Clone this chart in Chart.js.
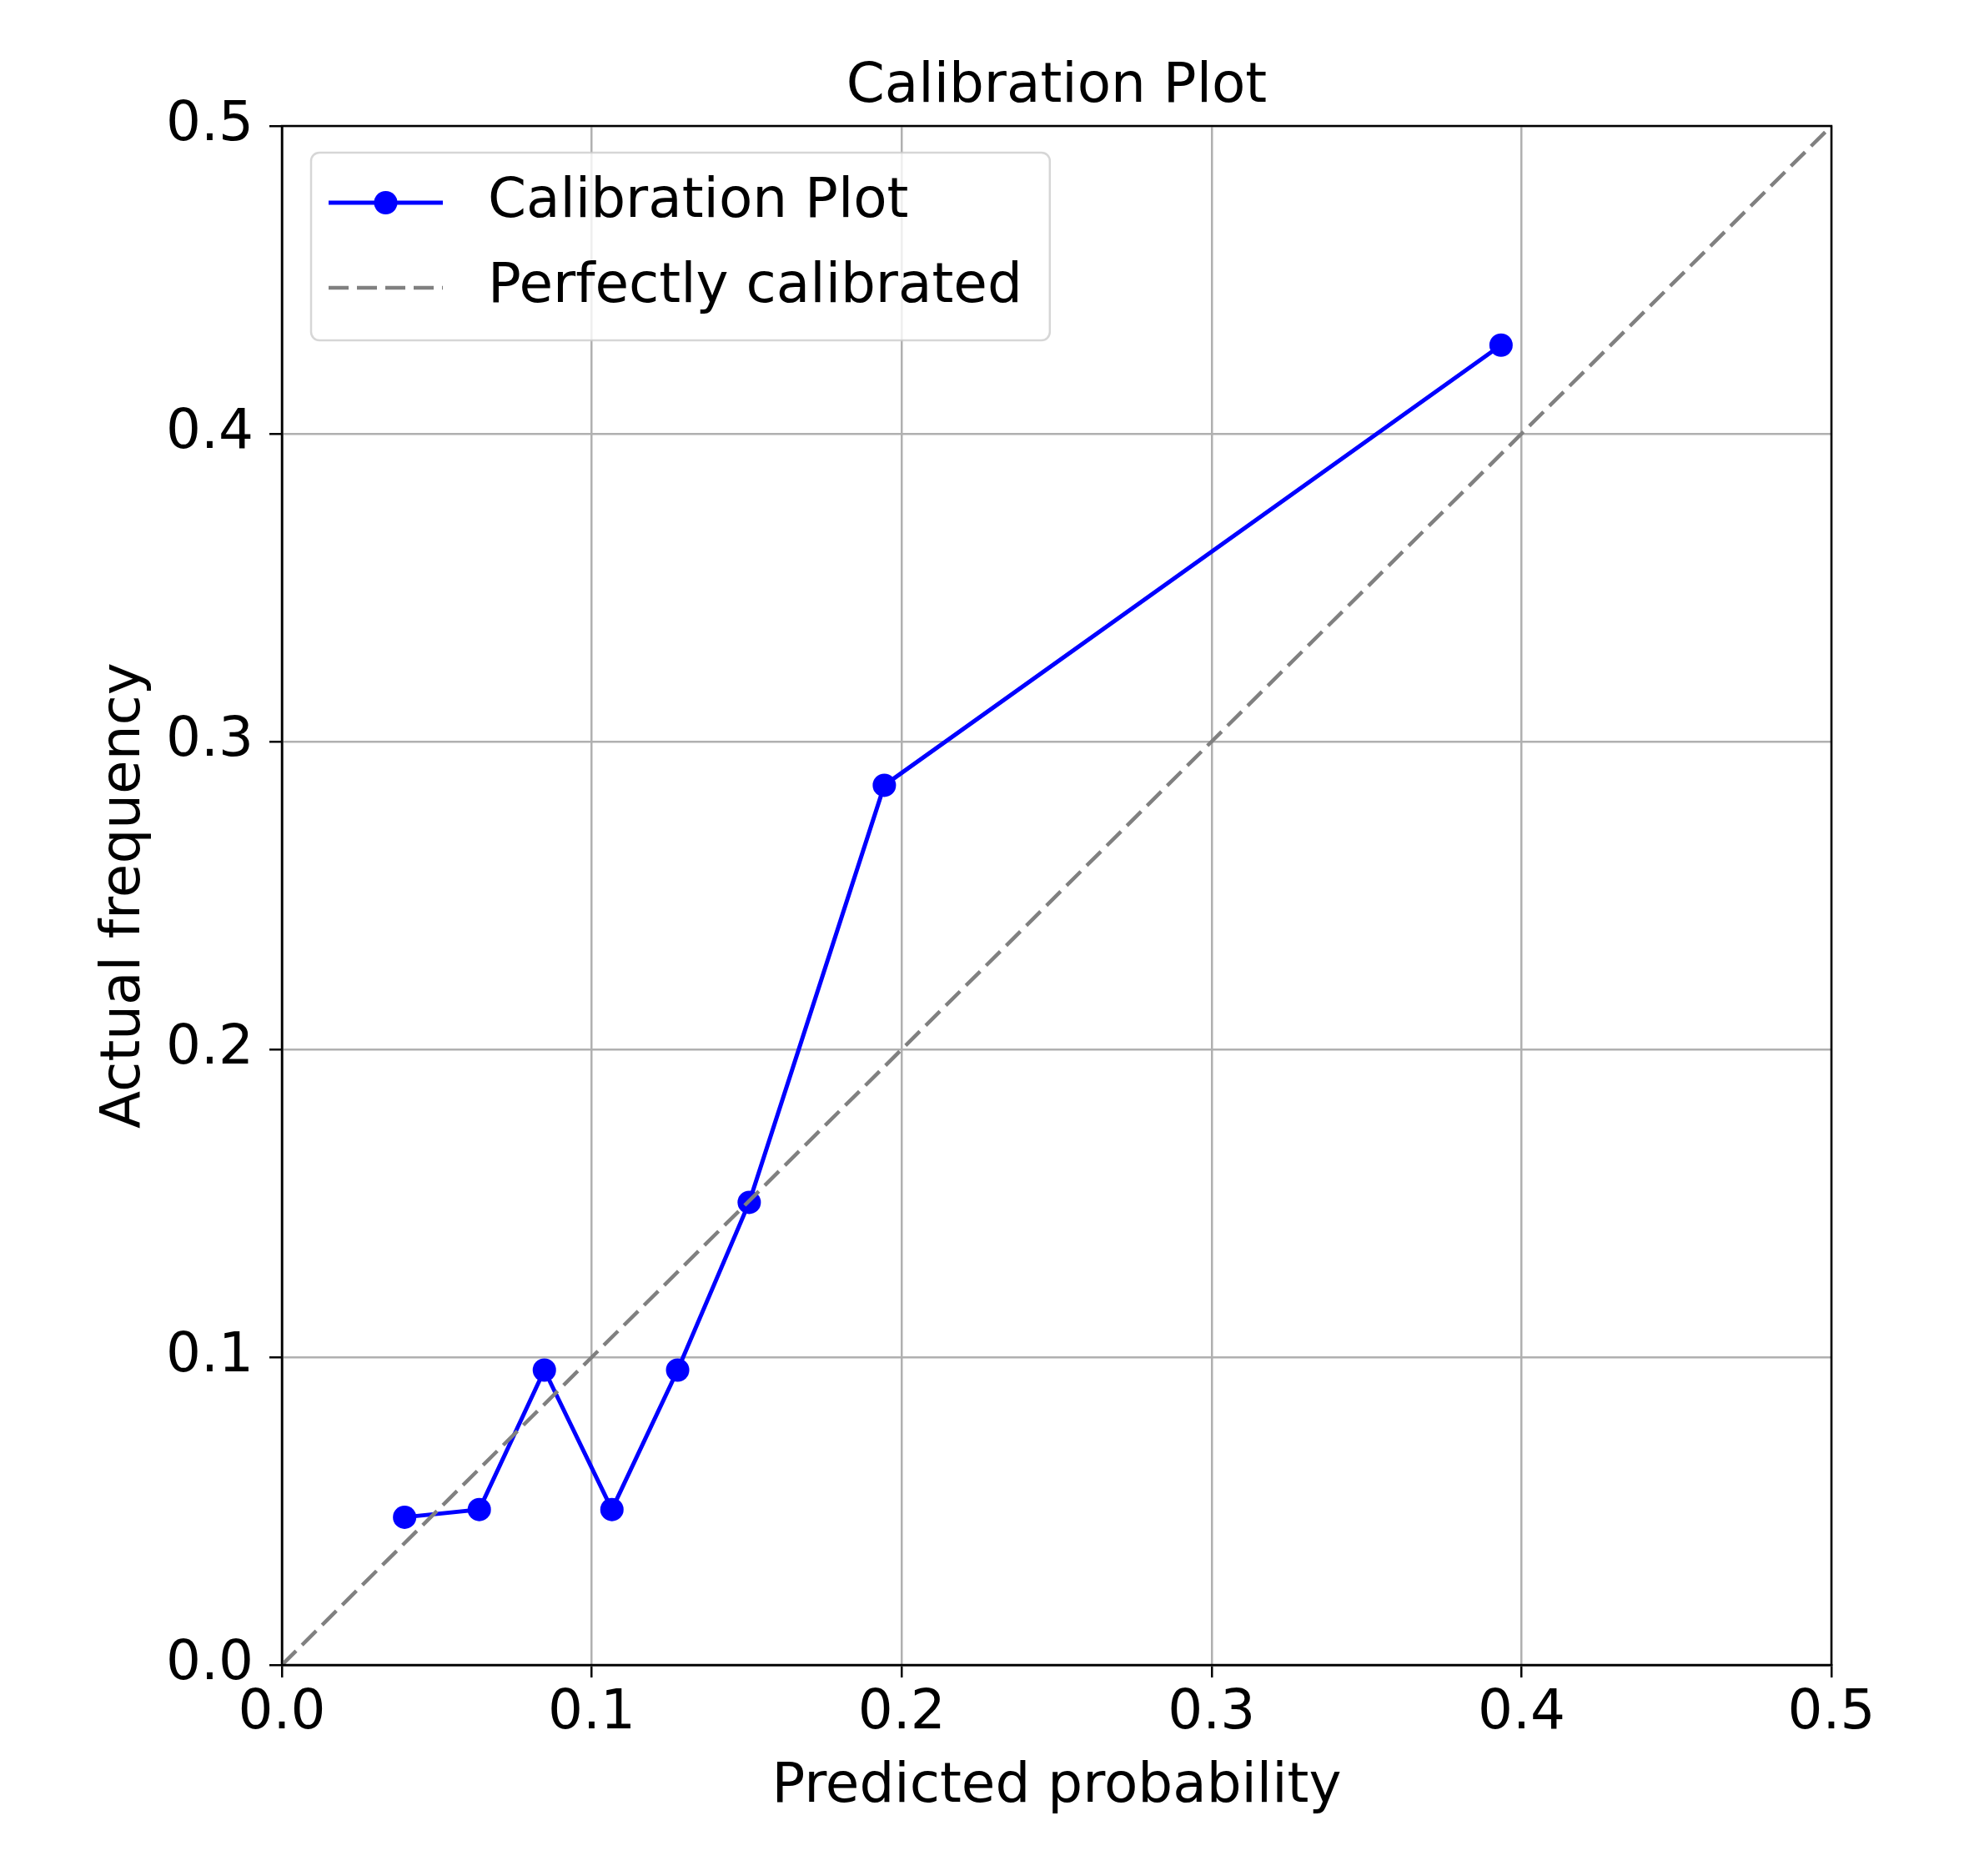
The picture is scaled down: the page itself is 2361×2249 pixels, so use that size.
<!DOCTYPE html>
<html><head><meta charset="utf-8">
<script src="https://cdn.jsdelivr.net/npm/chart.js@4.4.1/dist/chart.umd.min.js"></script>
<style>html,body{margin:0;padding:0;background:#fff}#wrap{width:2361px;height:2249px}</style>
</head><body><div id="wrap"><canvas id="c" width="2361" height="2249"></canvas></div>
<script>
const chartTitle = 'Calibration Plot';
const xAxisLabel = 'Predicted probability';
const yAxisLabel = 'Actual frequency';
const seriesNames = ['Calibration Plot', 'Perfectly calibrated'];
const predictedProb = [0.0396, 0.0637, 0.0847, 0.1065, 0.1277, 0.1508, 0.1944, 0.3934];
const actualFreq = [0.0480, 0.0505, 0.0958, 0.0505, 0.0958, 0.1503, 0.2858, 0.4288];
const diagonalX = [0, 0.5];
const diagonalY = [0, 0.5];
const tickValues = [0, 0.1, 0.2, 0.3, 0.4, 0.5];
const tickLabels = ['0.0', '0.1', '0.2', '0.3', '0.4', '0.5'];

const FONT = 'DejaVu Sans';
const fnt = {family: FONT, size: 66, lineHeight: 1};

const framePlugin = {
  id: 'frameAndLegend',
  afterDatasetsDraw(chart) {
    const {ctx, chartArea: a} = chart;
    ctx.save();
    ctx.strokeStyle = '#000';
    ctx.lineWidth = 2.5;
    ctx.strokeRect(a.left, a.top, a.right - a.left, a.bottom - a.top);
    ctx.restore();
  },
  afterDraw(chart) {
    const {ctx, chartArea: a} = chart;
    const ds = chart.data.datasets;
    ctx.save();
    ctx.font = `${fnt.size}px "${FONT}"`;
    const bx = a.left + 35, by = a.top + 32;
    const hx0 = bx + 21, hx1 = bx + 158, tx = bx + 212;
    const rowY = [by + 60, by + 162];
    let maxW = 0;
    ds.forEach(d => { maxW = Math.max(maxW, ctx.measureText(d.label).width); });
    const bw = (tx - bx) + maxW + 33, bh = 225;
    ctx.beginPath();
    ctx.roundRect(bx, by, bw, bh, 10);
    ctx.fillStyle = 'rgba(255,255,255,0.8)';
    ctx.fill();
    ctx.strokeStyle = 'rgba(204,204,204,0.8)';
    ctx.lineWidth = 2.5;
    ctx.stroke();
    ds.forEach((d, i) => {
      const y = rowY[i];
      ctx.beginPath();
      ctx.setLineDash(d.borderDash || []);
      ctx.strokeStyle = d.borderColor;
      ctx.lineWidth = d.borderWidth;
      ctx.moveTo(hx0, y); ctx.lineTo(hx1, y);
      ctx.stroke();
      ctx.setLineDash([]);
      if (d.pointRadius > 0) {
        ctx.beginPath();
        ctx.arc((hx0 + hx1) / 2, y, d.pointRadius, 0, Math.PI * 2);
        ctx.fillStyle = d.backgroundColor;
        ctx.fill();
      }
      ctx.fillStyle = '#000';
      ctx.textAlign = 'left';
      ctx.textBaseline = 'middle';
      ctx.fillText(d.label, tx, y);
    });
    ctx.restore();
  }
};

const axisCommon = {
  type: 'linear', min: 0, max: 0.5,
  afterBuildTicks: s => { s.ticks = tickValues.map(v => ({value: v})); },
  grid: {color: '#b0b0b0', lineWidth: 2.5, tickColor: '#000', tickLength: 15, tickWidth: 2.5, drawTicks: true},
  border: {display: true, color: '#000', width: 2.5},
};

new Chart(document.getElementById('c'), {
  type: 'line',
  data: {
    datasets: [
      {
        label: seriesNames[0],
        data: predictedProb.map((x, i) => ({x: x, y: actualFreq[i]})),
        borderColor: '#0000ff', backgroundColor: '#0000ff',
        borderWidth: 5, pointRadius: 14, pointHoverRadius: 14, pointBorderWidth: 0,
        tension: 0, fill: false, order: 1
      },
      {
        label: seriesNames[1],
        data: diagonalX.map((x, i) => ({x: x, y: diagonalY[i]})),
        borderColor: '#808080', backgroundColor: '#808080',
        borderWidth: 4.5, borderDash: [24, 10], pointRadius: 0, pointHoverRadius: 0,
        tension: 0, fill: false, order: 0
      }
    ]
  },
  options: {
    responsive: false, animation: false, devicePixelRatio: 1,
    layout: {padding: {top: 0, left: 0, right: 165, bottom: 0}},
    plugins: {
      legend: {display: false},
      tooltip: {enabled: false},
      title: {display: true, text: chartTitle, color: '#000', font: {...fnt, weight: 'normal'},
              fullSize: false, padding: {top: 72, bottom: 13}}
    },
    scales: {
      x: {...axisCommon, position: 'bottom',
        ticks: {font: fnt, color: '#000', padding: 11, maxRotation: 0, autoSkip: false,
                callback: (v, i) => tickLabels[i]},
        title: {display: true, text: xAxisLabel, color: '#000', font: fnt, padding: {top: 0, bottom: 73}},
        afterFit: s => { s.height = 253; }
      },
      y: {...axisCommon, position: 'left',
        ticks: {font: fnt, color: '#000', padding: 19, autoSkip: false,
                callback: (v, i) => tickLabels[i]},
        title: {display: true, text: yAxisLabel, color: '#000', font: fnt, padding: {top: 117, bottom: 0}},
        afterFit: s => { s.width = 338; }
      }
    }
  },
  plugins: [framePlugin]
});
</script></body></html>
